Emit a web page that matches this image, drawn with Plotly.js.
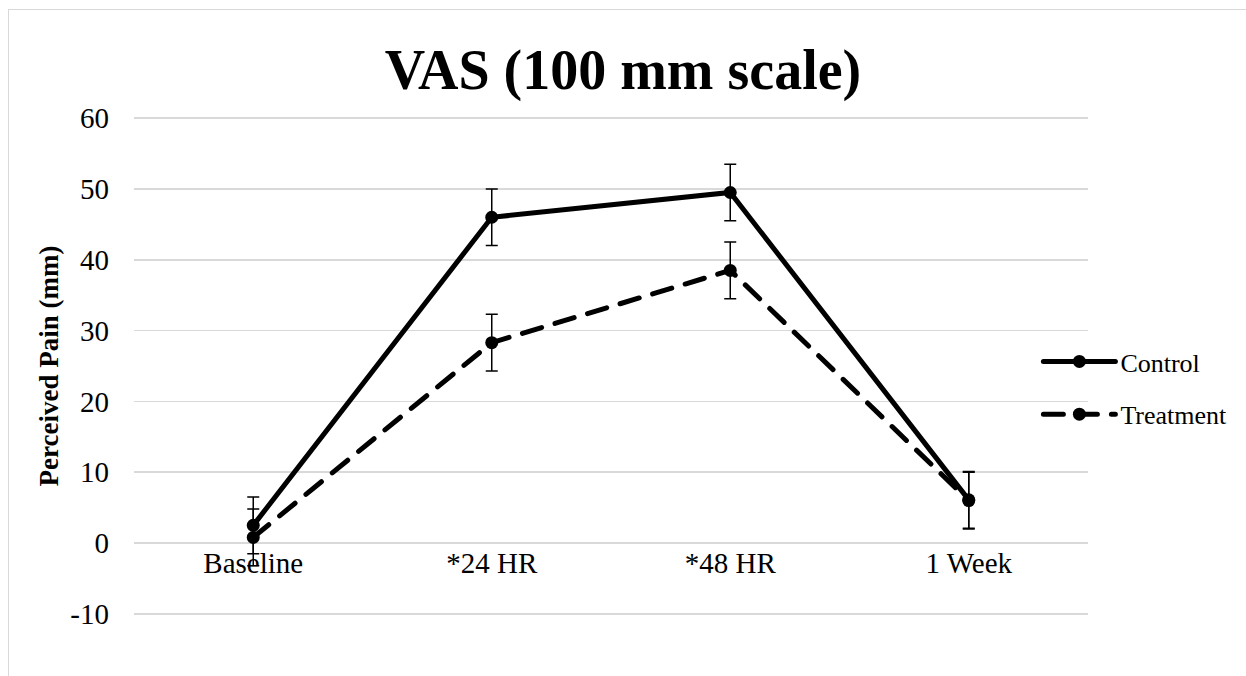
<!DOCTYPE html>
<html>
<head>
<meta charset="utf-8">
<script src="https://cdn.plot.ly/plotly-3.0.1.min.js"></script>
<style>
  html, body { margin: 0; padding: 0; background: #fff; }
  #frame { position: absolute; left: 8px; top: 9px; width: 1300px; height: 720px; border: 1.5px solid #d9d9d9; box-sizing: border-box; }
  #chart { position: absolute; left: 0; top: 0; width: 1246px; height: 676px; }
  .js-line { stroke-linecap: round; }
</style>
</head>
<body>
<div id="frame"></div>
<div id="chart"></div>
<script>
const categories = ["Baseline", "*24 HR", "*48 HR", "1 Week"];
const controlValues = [2.5, 46, 49.5, 6.1];
const treatmentValues = [0.8, 28.3, 38.5, 6.0];
const controlErrors = [4, 4, 4, 4];
const treatmentErrors = [4, 4, 4, 4];
const yTickValues = [-10, 0, 10, 20, 30, 40, 50, 60];
const yTickLabels = ["-10", "0", "10", "20", "30", "40", "50", "60"];

const yMin = -10, yMax = 60, pad = 0.3;
const font = "Liberation Serif, Times New Roman, serif";

const traces = [
  {
    name: "Control", legendgroup: "c", x: categories, y: controlValues, type: "scatter", mode: "lines+markers",
    line: { color: "#000", width: 5 },
    marker: { color: "#000", size: 13 },
    error_y: { type: "data", array: controlErrors, visible: true, color: "#000", thickness: 1.5, width: 6 }
  },
  {
    name: "Treatment", legendgroup: "t", x: categories, y: treatmentValues, type: "scatter", mode: "lines+markers",
    line: { color: "#000", width: 5, dash: "20px,14px" },
    marker: { color: "#000", size: 13 },
    error_y: { type: "data", array: treatmentErrors, visible: true, color: "#000", thickness: 1.5, width: 6 }
  }
];

const layout = {
  width: 1246, height: 676,
  paper_bgcolor: "rgba(0,0,0,0)", plot_bgcolor: "rgba(0,0,0,0)",
  margin: { l: 134, r: 158, t: 116, b: 60 },
  font: { family: font, size: 26, color: "#000" },
  title: { text: "<b>VAS (100 mm scale)</b>", font: { family: font, size: 56, color: "#000" }, x: 0.5, xanchor: "center", y: 0.897, yanchor: "middle" },
  xaxis: {
    type: "category", range: [-0.5, 3.5], anchor: "free", position: (0 - (yMin - pad)) / ((yMax + pad) - (yMin - pad)),
    showgrid: false, showline: false, zeroline: false, ticks: "",
    tickfont: { family: font, size: 29, color: "#000" }, ticklabelstandoff: 0
  },
  yaxis: {
    range: [yMin - pad, yMax + pad], tickmode: "array", tickvals: yTickValues, ticktext: yTickLabels,
    showgrid: true, gridcolor: "#d9d9d9", gridwidth: 1.5,
    zeroline: false, showline: false, ticks: "",
    tickfont: { family: font, size: 29, color: "#000" }, ticklabelstandoff: 24,
    title: { text: "<b>Perceived Pain (mm)</b>", font: { family: font, size: 27, color: "#000" }, standoff: 3 }
  },
  showlegend: true,
  legend: { x: 0.948, xanchor: "left", y: 0.456, yanchor: "middle", traceorder: "grouped", tracegroupgap: 16,
    font: { family: font, size: 26, color: "#000" }, itemwidth: 72, bgcolor: "rgba(0,0,0,0)" }
};

Plotly.newPlot("chart", traces, layout, { displayModeBar: false, staticPlot: true });
</script>
</body>
</html>
